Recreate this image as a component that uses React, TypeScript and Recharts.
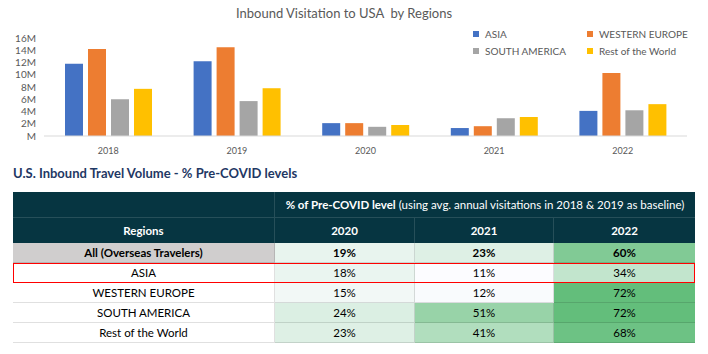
import * as React from 'react'
import { BarChart, Bar, XAxis, YAxis } from 'recharts'

const years = ['2018', '2019', '2020', '2021', '2022']
const asia = [11.8, 12.2, 2.1, 1.3, 4.1]
const westernEurope = [14.2, 14.5, 2.1, 1.6, 10.3]
const southAmerica = [6.0, 5.7, 1.5, 2.9, 4.2]
const restOfWorld = [7.7, 7.8, 1.8, 3.1, 5.2]
const yTicks = [0, 2, 4, 6, 8, 10, 12, 14, 16]

const tableYears = ['2020', '2021', '2022']
const tableRegions = ['All (Overseas Travelers)', 'ASIA', 'WESTERN EUROPE', 'SOUTH AMERICA', 'Rest of the World']
const pct2020 = [19, 18, 15, 24, 23]
const pct2021 = [23, 11, 12, 51, 41]
const pct2022 = [60, 34, 72, 72, 68]

const SERIES = [
  { key: 'asia', name: 'ASIA', color: '#4472c4' },
  { key: 'we', name: 'WESTERN EUROPE', color: '#ed7d31' },
  { key: 'sa', name: 'SOUTH AMERICA', color: '#a5a5a5' },
  { key: 'row', name: 'Rest of the World', color: '#ffc000' },
]

const chartData = years.map((y, i) => ({
  year: y,
  asia: asia[i],
  we: westernEurope[i],
  sa: southAmerica[i],
  row: restOfWorld[i],
}))

const FONT = 'Lato, "Open Sans", sans-serif'

function ChartLegend() {
  return (
    <div style={{ display: 'grid', gridTemplateColumns: '114px 114px', rowGap: 4, fontFamily: FONT, fontSize: 10, color: '#595959' }}>
      {SERIES.map((s) => (
        <div key={s.key} style={{ display: 'flex', alignItems: 'center', height: 13 }}>
          <span style={{ display: 'inline-block', width: 6, height: 6, background: s.color, marginRight: 6 }} />
          {s.name}
        </div>
      ))}
    </div>
  )
}

// excel-style 2 colour scale (white -> green)
const allPct = [...pct2020, ...pct2021, ...pct2022]
const pMin = Math.min(...allPct)
const pMax = Math.max(...allPct)
function scaleColor(v: number) {
  const t = (v - pMin) / (pMax - pMin)
  const lo = [252, 252, 255]
  const hi = [99, 190, 123]
  const c = lo.map((l, i) => Math.round(l + (hi[i] - l) * t))
  return `rgb(${c[0]},${c[1]},${c[2]})`
}

const COL_W = [262, 140, 139, 141]
const HEAD_BG = '#063541'
const headLine = '1px solid rgba(255,255,255,0.13)'
const cellLine = '1px solid rgba(0,0,0,0.12)'

function PctTable() {
  const cols = [pct2020, pct2021, pct2022]
  return (
    <div style={{ width: 682, fontFamily: FONT, fontSize: 11.5, color: '#000' }}>
      <div style={{ display: 'flex', height: 26, background: HEAD_BG, color: '#fff' }}>
        <div style={{ width: COL_W[0], borderRight: headLine, borderBottom: headLine, boxSizing: 'border-box' }} />
        <div style={{ flex: 1, textAlign: 'center', lineHeight: '26px', borderBottom: headLine, boxSizing: 'border-box' }}>
          <b>% of Pre-COVID level</b> (using avg. annual visitations in 2018 &amp; 2019 as baseline)
        </div>
      </div>
      <div style={{ display: 'flex', height: 25, background: HEAD_BG, color: '#fff', fontWeight: 700 }}>
        {['Regions', ...tableYears].map((h, i) => (
          <div
            key={h}
            style={{ width: COL_W[i], textAlign: 'center', lineHeight: '25px', borderRight: i < 3 ? headLine : undefined, boxSizing: 'border-box' }}
          >
            {h}
          </div>
        ))}
      </div>
      {tableRegions.map((r, ri) => {
        const isAll = ri === 0
        const isAsia = r === 'ASIA'
        return (
          <div
            key={r}
            style={{
              display: 'flex',
              height: 20,
              fontWeight: isAll ? 700 : 400,
              position: 'relative',
              zIndex: isAsia ? 2 : 1,
              outline: isAsia ? '1px solid #ff0000' : undefined,
              outlineOffset: -1,
            }}
          >
            <div
              style={{
                width: COL_W[0],
                textAlign: 'center',
                lineHeight: '19px',
                background: isAll ? '#d0cece' : '#fff',
                borderRight: cellLine,
                borderBottom: cellLine,
                boxSizing: 'border-box',
              }}
            >
              {r}
            </div>
            {cols.map((c, ci) => (
              <div
                key={ci}
                style={{
                  width: COL_W[ci + 1],
                  textAlign: 'center',
                  lineHeight: '19px',
                  background: scaleColor(c[ri]),
                  borderRight: ci < 2 ? cellLine : undefined,
                  borderBottom: cellLine,
                  boxSizing: 'border-box',
                }}
              >
                {c[ri]}%
              </div>
            ))}
          </div>
        )
      })}
    </div>
  )
}

export default function App() {
  return (
    <div style={{ position: 'absolute', left: 0, top: 0, width: 708, height: 354, background: '#fff', fontFamily: FONT }}>
      <div style={{ position: 'absolute', top: 5, left: 0, width: 688, textAlign: 'center', fontSize: 13, color: '#595959' }}>
        Inbound Visitation to USA&nbsp; by Regions
      </div>
      <div style={{ position: 'absolute', top: 0, left: 0 }}>
        <BarChart width={708} height={160} data={chartData} margin={{ top: 38, right: 21, left: 4, bottom: 4 }} barSize={18} barGap={5}>
          <XAxis
            dataKey="year"
            axisLine={{ stroke: '#d9d9d9' }}
            tickLine={false}
            tick={{ fontSize: 9, fill: '#595959', fontFamily: FONT }}
            tickMargin={6}
            height={20}
          />
          <YAxis
            domain={[0, 16]}
            ticks={yTicks}
            interval={0}
            width={40}
            axisLine={false}
            tickLine={false}
            tick={{ fontSize: 10, fill: '#595959', fontFamily: FONT }}
            tickFormatter={(v: number) => (v === 0 ? 'M' : `${v}M`)}
          />
          {SERIES.map((s) => (
            <Bar key={s.key} dataKey={s.key} name={s.name} fill={s.color} isAnimationActive={false} />
          ))}
        </BarChart>
      </div>
      <div style={{ position: 'absolute', top: 27, left: 473, width: 232 }}>
        <ChartLegend />
      </div>
      <div style={{ position: 'absolute', top: 165, left: 13, fontSize: 13, fontWeight: 700, color: '#1f3864' }}>
        U.S. Inbound Travel Volume - % Pre-COVID levels
      </div>
      <div style={{ position: 'absolute', top: 192, left: 13 }}>
        <PctTable />
      </div>
    </div>
  )
}
